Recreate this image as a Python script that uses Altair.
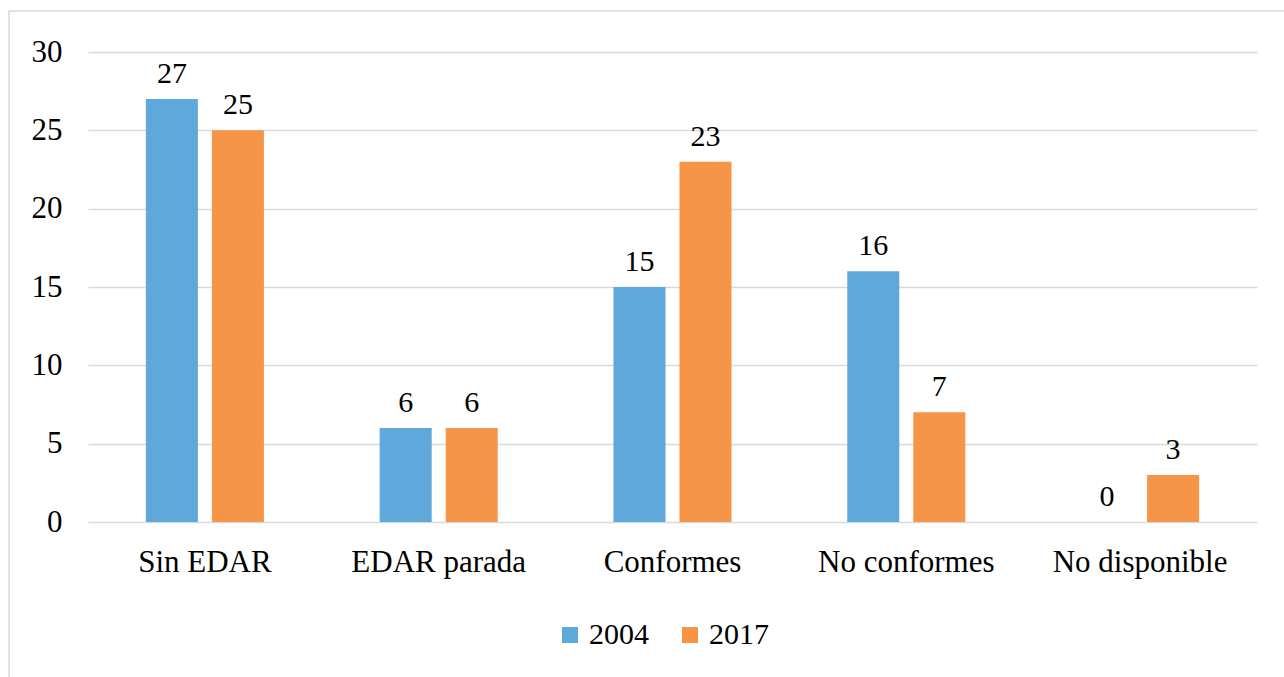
import altair as alt
import pandas as pd

categories = ["Sin EDAR", "EDAR parada", "Conformes", "No conformes", "No disponible"]
years = ["2004", "2017"]
values_2004 = [27, 6, 15, 16, 0]
values_2017 = [25, 6, 23, 7, 3]

rows = []
for cat, a, b in zip(categories, values_2004, values_2017):
    rows.append({"categoria": cat, "anio": "2004", "valor": a})
    rows.append({"categoria": cat, "anio": "2017", "valor": b})
df = pd.DataFrame(rows)

FONT = "Liberation Serif"
W, H = 1169, 470

x_enc = alt.X(
    "categoria:N",
    sort=categories,
    scale=alt.Scale(paddingInner=0.495, paddingOuter=0.2475),
    axis=alt.Axis(
        title=None, labelAngle=0, domain=False, ticks=False,
        labelFont=FONT, labelFontSize=31, labelColor="#000000", labelPadding=25,
    ),
)
xoff_enc = alt.XOffset(
    "anio:N", sort=years,
    scale=alt.Scale(paddingInner=0.2121, paddingOuter=0),
)
y_enc = alt.Y(
    "valor:Q",
    scale=alt.Scale(domain=[0, 30]),
    axis=alt.Axis(
        title=None, values=[0, 5, 10, 15, 20, 25, 30], domain=False, ticks=False,
        grid=True, gridColor="#d9d9d9", gridWidth=1.5,
        labelFont=FONT, labelFontSize=31, labelColor="#000000", labelPadding=26,
    ),
)
color_enc = alt.Color(
    "anio:N",
    sort=years,
    scale=alt.Scale(domain=years, range=["#5fa8dc", "#f69548"]),
    legend=alt.Legend(
        title=None, orient="none", direction="horizontal",
        legendX=467, legendY=568,
        symbolType="square", symbolSize=256, symbolStrokeWidth=0,
        labelFont=FONT, labelFontSize=30, labelColor="#000000",
        columnPadding=26, labelOffset=4,
    ),
)

base = alt.Chart(df)

bars = base.mark_bar().encode(x=x_enc, xOffset=xoff_enc, y=y_enc, color=color_enc)

labels = base.mark_text(
    font=FONT, fontSize=30, color="#000000", baseline="alphabetic", dy=-16
).encode(x=x_enc, xOffset=xoff_enc, y=y_enc, text="valor:Q")

frame = alt.Chart(pd.DataFrame({"k": [0]})).mark_rect(
    fill=None, stroke="#d9d9d9", strokeWidth=1.5, clip=False
).encode(
    x=alt.value(-79), x2=alt.value(W + 60), y=alt.value(-41), y2=alt.value(H + 200)
)

chart = alt.layer(frame, bars, labels).properties(
    width=W, height=H,
    padding={"left": 88, "top": 52, "right": 27, "bottom": 155},
    autosize=alt.AutoSizeParams(type="none"),
    background="#ffffff",
).configure_view(stroke=None)

chart.save("out.html", embed_options={"renderer": "svg", "actions": False})
